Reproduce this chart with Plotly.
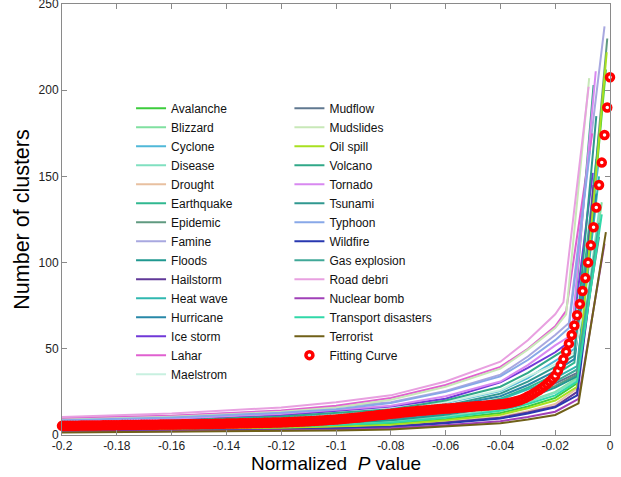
import plotly.graph_objects as go

# ---------------- data ----------------
x_breaks = [-0.2, -0.16, -0.12, -0.1, -0.08, -0.06, -0.04, -0.03, -0.02]

disasters = ["Avalanche", "Blizzard", "Cyclone", "Disease", "Drought", "Earthquake",
             "Epidemic", "Famine", "Floods", "Hailstorm", "Heat wave", "Hurricane",
             "Ice storm", "Lahar", "Maelstrom",
             "Mudflow", "Mudslides", "Oil spill", "Volcano", "Tornado", "Tsunami",
             "Typhoon", "Wildfire", "Gas explosion", "Road debri", "Nuclear bomb",
             "Transport disasters", "Terrorist"]

clusters = [
    [3.0, 3.6, 4.5, 5.3, 6.5, 9.2, 12.8, 16.5, 21.5],
    [3.6, 4.3, 5.4, 6.4, 7.8, 10.8, 15.0, 19.5, 25.0],
    [6.6, 7.8, 9.9, 11.8, 14.2, 18.5, 25.5, 33.0, 43.0],
    [3.4, 4.1, 5.2, 6.3, 7.7, 10.5, 14.5, 19.0, 24.5],
    [2.4, 2.9, 3.7, 4.3, 5.3, 7.5, 10.5, 13.8, 18.0],
    [5.0, 6.0, 7.6, 9.0, 11.0, 15.0, 21.0, 27.5, 35.0],
    [4.2, 4.9, 6.2, 7.3, 8.9, 12.3, 17.0, 22.5, 28.5],
    [9.5, 11.0, 13.8, 16.3, 19.0, 25.5, 35.0, 45.5, 58.0],
    [3.9, 4.7, 5.9, 7.0, 8.5, 11.8, 16.5, 21.5, 27.5],
    [2.3, 2.7, 3.4, 4.0, 5.0, 7.2, 10.0, 13.0, 16.5],
    [4.9, 5.7, 7.4, 8.8, 10.8, 14.8, 20.5, 26.5, 33.0],
    [5.6, 6.6, 8.3, 9.9, 12.0, 16.5, 22.5, 29.0, 37.0],
    [7.0, 8.6, 11.5, 13.8, 16.5, 21.0, 30.5, 39.0, 48.0],
    [9.8, 11.2, 14.2, 17.0, 21.5, 29.0, 39.5, 50.0, 63.0],
    [6.0, 7.2, 9.2, 11.5, 14.0, 19.0, 26.0, 34.0, 41.0],
    [4.4, 5.2, 6.6, 7.8, 9.5, 13.0, 18.0, 23.5, 30.0],
    [8.9, 10.6, 13.5, 16.0, 20.5, 28.0, 38.5, 49.5, 62.0],
    [2.6, 3.1, 3.9, 4.8, 6.0, 8.5, 11.8, 15.5, 20.0],
    [7.2, 8.4, 10.8, 12.8, 15.0, 20.0, 28.0, 36.0, 46.0],
    [8.0, 9.6, 12.3, 14.5, 17.0, 22.5, 31.0, 40.5, 52.0],
    [6.2, 7.3, 8.9, 10.4, 12.6, 17.0, 24.0, 31.0, 39.5],
    [8.6, 10.2, 12.9, 15.0, 18.5, 25.0, 34.0, 43.5, 55.0],
    [2.0, 2.5, 3.1, 3.8, 4.7, 6.8, 9.5, 12.5, 16.0],
    [4.5, 5.5, 7.0, 8.3, 10.0, 13.5, 18.5, 24.0, 31.0],
    [10.5, 12.5, 16.0, 19.0, 23.0, 31.0, 42.5, 55.0, 70.0],
    [1.8, 2.1, 2.7, 3.1, 3.9, 5.7, 8.0, 10.5, 13.5],
    [3.3, 3.9, 4.9, 5.8, 7.2, 10.0, 14.0, 18.0, 23.0],
    [1.5, 1.8, 2.2, 2.6, 3.2, 4.8, 6.8, 9.0, 11.6],
]

knee_x = [-0.012, -0.012, -0.013, -0.012, -0.012, -0.013, -0.012, -0.015, -0.012, -0.012,
          -0.012, -0.013, -0.014, -0.016, -0.013, -0.012, -0.016, -0.012, -0.014, -0.014,
          -0.013, -0.015, -0.012, -0.012, -0.017, -0.0115, -0.012, -0.0115]
knee_y = [30, 33, 50, 32, 27, 42, 35, 65, 34, 25, 40, 44, 55, 72, 48,
          36, 70, 28, 52, 58, 46, 62, 23, 38, 77, 21, 31, 18.4]
end_x = [-0.0015, -0.003, -0.004, -0.004, -0.004, -0.005, -0.001, -0.002, -0.004, -0.006,
         -0.004, -0.005, -0.0063, -0.0065, -0.005, -0.004, -0.0076, -0.0012, -0.006, -0.0052,
         -0.005, -0.0073, -0.0063, -0.004, -0.0078, -0.002, -0.003, -0.0015]
end_y = [212, 135, 160, 130, 120, 160, 230, 237, 175, 145, 150, 140, 152, 175, 110,
         115, 207, 222, 203, 211, 185, 165, 96, 123, 202, 111, 128, 117.7]

# fitting curve, sampled every 0.001 from -0.2 to 0
fit_x = [round(-0.2 + 0.001 * i, 3) for i in range(201)]
fit_y = [
    5.30, 5.32, 5.34, 5.36, 5.38, 5.40, 5.42, 5.44, 5.46, 5.48,
    5.50, 5.52, 5.54, 5.56, 5.58, 5.60, 5.62, 5.64, 5.66, 5.68,
    5.70, 5.72, 5.74, 5.76, 5.78, 5.80, 5.82, 5.84, 5.86, 5.88,
    5.90, 5.92, 5.94, 5.96, 5.98, 6.00, 6.02, 6.04, 6.06, 6.08,
    6.10, 6.12, 6.14, 6.16, 6.18, 6.20, 6.22, 6.24, 6.26, 6.28,
    6.30, 6.33, 6.36, 6.39, 6.42, 6.45, 6.48, 6.51, 6.54, 6.57,
    6.60, 6.63, 6.66, 6.69, 6.72, 6.75, 6.78, 6.81, 6.84, 6.87,
    6.90, 6.94, 6.98, 7.02, 7.06, 7.10, 7.14, 7.18, 7.22, 7.26,
    7.30, 7.36, 7.43, 7.50, 7.57, 7.64, 7.71, 7.78, 7.85, 7.92,
    8.00, 8.09, 8.18, 8.28, 8.38, 8.48, 8.58, 8.69, 8.80, 8.90,
    9.00, 9.14, 9.28, 9.43, 9.58, 9.73, 9.88, 10.03, 10.18, 10.34,
    10.50, 10.68, 10.86, 11.04, 11.22, 11.40, 11.58, 11.76, 11.94, 12.12,
    12.30, 12.47, 12.64, 12.81, 12.98, 13.15, 13.32, 13.49, 13.66, 13.83,
    14.00, 14.13, 14.26, 14.39, 14.52, 14.65, 14.78, 14.91, 15.04, 15.17,
    15.30, 15.42, 15.54, 15.66, 15.78, 15.90, 16.02, 16.14, 16.26, 16.38,
    16.50, 16.63, 16.76, 16.89, 17.02, 17.15, 17.28, 17.41, 17.54, 17.67,
    17.80, 18.00, 18.30, 18.60, 18.90, 19.30, 19.70, 20.20, 20.80, 21.50,
    22.30, 23.10, 24.00, 25.00, 26.00, 27.10, 28.30, 29.60, 31.00, 32.60,
    34.40, 37.30, 40.40, 44.00, 48.30, 53.00, 58.00, 63.50, 69.50, 76.00,
    83.50, 91.00, 100.0, 110.0, 120.5, 132.0, 145.0, 158.0, 174.0, 190.0,
    207.5,
]

x_tickvals = [-0.2, -0.18, -0.16, -0.14, -0.12, -0.1, -0.08, -0.06, -0.04, -0.02, 0]
x_ticktext = ["-0.2", "-0.18", "-0.16", "-0.14", "-0.12", "-0.1", "-0.08", "-0.06",
              "-0.04", "-0.02", "0"]
y_tickvals = [0, 50, 100, 150, 200, 250]

# ---------------- styles ----------------
colors = ["#3ccc3c", "#80e0a0", "#50b8d8", "#80e0c0", "#e8c0a0", "#30b890", "#609a80",
          "#a8a8e0", "#209890", "#603898", "#30b8b0", "#2888a8", "#7038d8", "#e060d0",
          "#c8f0e0", "#607890", "#c8e8b8", "#a8e020", "#30a888", "#d888f0", "#309890",
          "#88a8e8", "#2838b0", "#40a898", "#e8a0e0", "#a040b8", "#30d8a8", "#706018"]

FONT = "Liberation Sans, Arial, Helvetica, sans-serif"

fig = go.Figure()
for i, name in enumerate(disasters):
    xs = x_breaks + [knee_x[i], end_x[i]]
    ys = clusters[i] + [knee_y[i], end_y[i]]
    fig.add_trace(go.Scatter(
        x=xs, y=ys, mode="lines", name=name,
        line=dict(color=colors[i], width=2),
        legend="legend" if i < 15 else "legend2",
    ))

fig.add_trace(go.Scatter(
    x=fit_x, y=fit_y, mode="markers", name="Fitting Curve",
    marker=dict(symbol="circle", size=7, color="white",
                line=dict(color="#ff0000", width=3.5)),
    legend="legend2", cliponaxis=False,
))

axis_common = dict(
    showline=True, linecolor="#8a8a8a", linewidth=1, mirror="allticks",
    ticks="inside", ticklen=5, tickcolor="#8a8a8a", showgrid=False, zeroline=False,
    tickfont=dict(family=FONT, size=12, color="#222222"),
    ticklabeloverflow="allow",
)

fig.update_layout(
    width=621, height=477,
    margin=dict(l=62, r=11, t=4, b=42, autoexpand=False),
    paper_bgcolor="white", plot_bgcolor="white",
    font=dict(family=FONT, color="#000000"),
    xaxis=dict(range=[-0.2, 0], tickvals=x_tickvals, ticktext=x_ticktext,
               title=dict(text="Normalized  <i>P</i> value",
                          font=dict(family=FONT, size=19), standoff=4),
               automargin=False, **axis_common),
    yaxis=dict(range=[0, 250], tickvals=y_tickvals,
               title=dict(text="Number of clusters",
                          font=dict(family=FONT, size=21.5), standoff=3),
               automargin=False, **axis_common),
    legend=dict(x=0.126, y=0.792, xanchor="left", yanchor="top",
                bgcolor="rgba(255,255,255,0)", borderwidth=0,
                font=dict(family=FONT, size=12, color="#111111")),
    legend2=dict(x=0.415, y=0.792, xanchor="left", yanchor="top",
                 bgcolor="rgba(255,255,255,0)", borderwidth=0,
                 font=dict(family=FONT, size=12, color="#111111")),
)

fig.write_html("out.html", config={"displayModeBar": False},
               post_script="document.body.style.margin='0';document.body.style.padding='0';")
